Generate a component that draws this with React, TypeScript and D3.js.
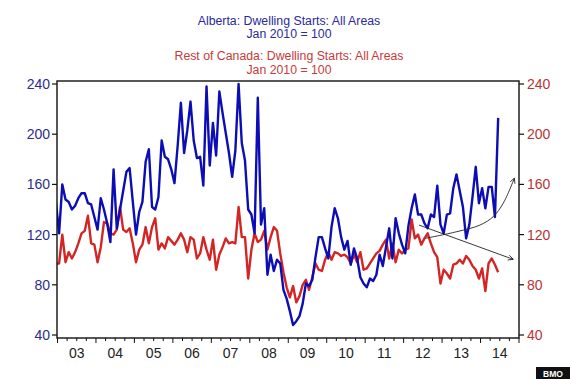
import React from "react";
import * as d3 from "d3";

// Monthly index values, Jan 2010 = 100 (first point = Dec 2002)
const albertaValues = [
  146, 121, 160, 148, 146, 140, 143, 149, 153, 153, 145, 144, 134, 124, 149, 140, 129, 114, 172, 125,
  140, 155, 170, 173, 146, 120, 138, 146, 178, 188, 142, 140, 150, 195, 182, 180, 172, 161, 191, 225,
  185, 203, 226, 195, 181, 182, 159, 238, 175, 209, 183, 234, 217, 201, 185, 166, 187, 240, 193, 179,
  140, 136, 121, 229, 128, 141, 88, 104, 91, 100, 97, 76, 69, 59, 48, 51, 55, 65, 81, 79,
  84, 102, 118, 118, 109, 101, 126, 141, 133, 118, 108, 115, 96, 109, 101, 86, 81, 78, 85, 83,
  88, 104, 95, 110, 125, 101, 133, 121, 112, 105, 127, 141, 152, 136, 136, 129, 125, 136, 134, 159,
  128, 121, 136, 137, 157, 168, 155, 142, 117, 128, 150, 174, 145, 157, 141, 158, 158, 134, 213,
];
const restOfCanadaValues = [
  97, 97, 120, 98, 106, 101, 106, 113, 121, 123, 135, 113, 112, 98, 110, 130, 129, 121, 120, 124,
  142, 124, 122, 125, 113, 98, 108, 112, 126, 113, 126, 133, 108, 113, 109, 118, 115, 112, 116, 121,
  116, 106, 118, 116, 101, 105, 118, 108, 100, 116, 92, 104, 110, 117, 113, 114, 113, 142, 118, 118,
  85, 108, 121, 114, 116, 123, 108, 118, 126, 123, 105, 90, 78, 70, 79, 66, 71, 80, 84, 76,
  86, 97, 92, 91, 100, 106, 100, 106, 105, 103, 104, 102, 97, 104, 98, 106, 92, 93, 97, 101,
  105, 107, 112, 116, 101, 113, 98, 108, 105, 108, 109, 132, 117, 120, 112, 117, 121, 113, 106, 102,
  81, 92, 89, 85, 96, 97, 100, 97, 103, 100, 95, 92, 85, 93, 75, 97, 101, 96, 90,
];
const startYear = 2003;
const startMonthOffset = -0.5; // first observation: mid-December 2002
const yearLabels = ["03", "04", "05", "06", "07", "08", "09", "10", "11", "12", "13", "14"];
const yTicks = [40, 80, 120, 160, 200, 240];
const titleAlberta = ["Alberta: Dwelling Starts: All Areas", "Jan 2010 = 100"];
const titleRest = ["Rest of Canada: Dwelling Starts: All Areas", "Jan 2010 = 100"];
// annotation arrows, in (year, value) units
const arrowCurve: [number, number][] = [
  [2012.56, 117], [2013.38, 122.3], [2013.985, 127.6], [2014.33, 134.3], [2014.59, 145], [2014.88, 165],
];
const arrowStraight: [number, number][] = [[2012.4, 127.6], [2014.85, 100.3]];

const W = 570;
const H = 379;
const left = 57;
const right = 519;
const top = 81;
const bottom = 338;

const BLUE = "#0d0db5";
const RED = "#d42525";
const FONT = "'Liberation Sans', Arial, sans-serif";

export default function App() {
  const x = d3.scaleLinear().domain([2003, 2015]).range([57.5, 519]);
  const y = d3.scaleLinear().domain([40, 240]).range([335, 84]);
  const toT = (k: number) => startYear + (k + startMonthOffset) / 12;

  const line = d3
    .line<number>()
    .x((_, i) => x(toT(i)))
    .y((v) => y(v));

  const annLine = d3
    .line<[number, number]>()
    .x((d) => x(d[0]))
    .y((d) => y(d[1]))
    .curve(d3.curveCatmullRom);

  const quarters = d3.range(2003, 2015.01, 0.25);

  return (
    <svg
      width={W}
      height={H}
      style={{ position: "absolute", left: 0, top: 0, background: "#fff" }}
      fontFamily={FONT}
    >
      <defs>
        <clipPath id="plotClip">
          <rect x={left} y={top} width={right - left} height={bottom - top} />
        </clipPath>
        <marker id="arr" viewBox="0 0 10 10" refX="9" refY="5" markerWidth="7" markerHeight="7" orient="auto">
          <path d="M1,1 L9,5 L1,9" fill="none" stroke="#111" strokeWidth={1.2} />
        </marker>
      </defs>
      <rect x={0} y={0} width={W} height={H} fill="#fff" />

      {/* titles */}
      <g textAnchor="middle" fontSize={12.3}>
        <text x={289} y={24.5} fill="#2a2a9c">{titleAlberta[0]}</text>
        <text x={289} y={38} fill="#2a2a9c">{titleAlberta[1]}</text>
        <text x={289} y={60} fill="#c83a3a">{titleRest[0]}</text>
        <text x={289} y={73.5} fill="#c83a3a">{titleRest[1]}</text>
      </g>

      {/* series */}
      <g clipPath="url(#plotClip)" fill="none" strokeWidth={2.4} strokeLinejoin="round">
        <path d={line(restOfCanadaValues) || ""} stroke={RED} />
        <path d={line(albertaValues) || ""} stroke={BLUE} />
      </g>

      {/* annotation arrows */}
      <g fill="none" stroke="#222" strokeWidth={0.9}>
        <path d={annLine(arrowCurve) || ""} markerEnd="url(#arr)" />
        <path d={annLine(arrowStraight) || ""} markerEnd="url(#arr)" />
      </g>

      {/* frame */}
      <rect x={left} y={top} width={right - left} height={bottom - top} fill="none" stroke="#111" strokeWidth={1.4} />

      {/* left axis */}
      <g fontSize={14} fill="#2c2c8e" textAnchor="end">
        {yTicks.map((t) => (
          <g key={"l" + t}>
            <line x1={left - 5} x2={left} y1={y(t)} y2={y(t)} stroke="#111" strokeWidth={1.2} />
            <text x={50} y={y(t) + 5}>{t}</text>
          </g>
        ))}
      </g>
      {/* right axis */}
      <g fontSize={14} fill="#b83434" textAnchor="start">
        {yTicks.map((t) => (
          <g key={"r" + t}>
            <line x1={right} x2={right + 5} y1={y(t)} y2={y(t)} stroke="#111" strokeWidth={1.2} />
            <text x={527} y={y(t) + 5}>{t}</text>
          </g>
        ))}
      </g>

      {/* x axis */}
      <g>
        {quarters.map((q, i) => (
          <line
            key={"q" + i}
            x1={x(q)}
            x2={x(q)}
            y1={bottom}
            y2={bottom + (i % 4 === 0 ? 5 : 3)}
            stroke="#111"
            strokeWidth={1}
          />
        ))}
        {yearLabels.map((lab, i) => (
          <text key={lab} x={x(2003 + i + 0.5)} y={358} fontSize={14} textAnchor="middle" fill="#222">
            {lab}
          </text>
        ))}
      </g>

      {/* logo */}
      <rect x={536} y={367} width={34} height={12} fill="#111" />
      <text x={553} y={376.5} fontSize={8.5} fontWeight="bold" fill="#fff" textAnchor="middle">
        BMO
      </text>
    </svg>
  );
}
